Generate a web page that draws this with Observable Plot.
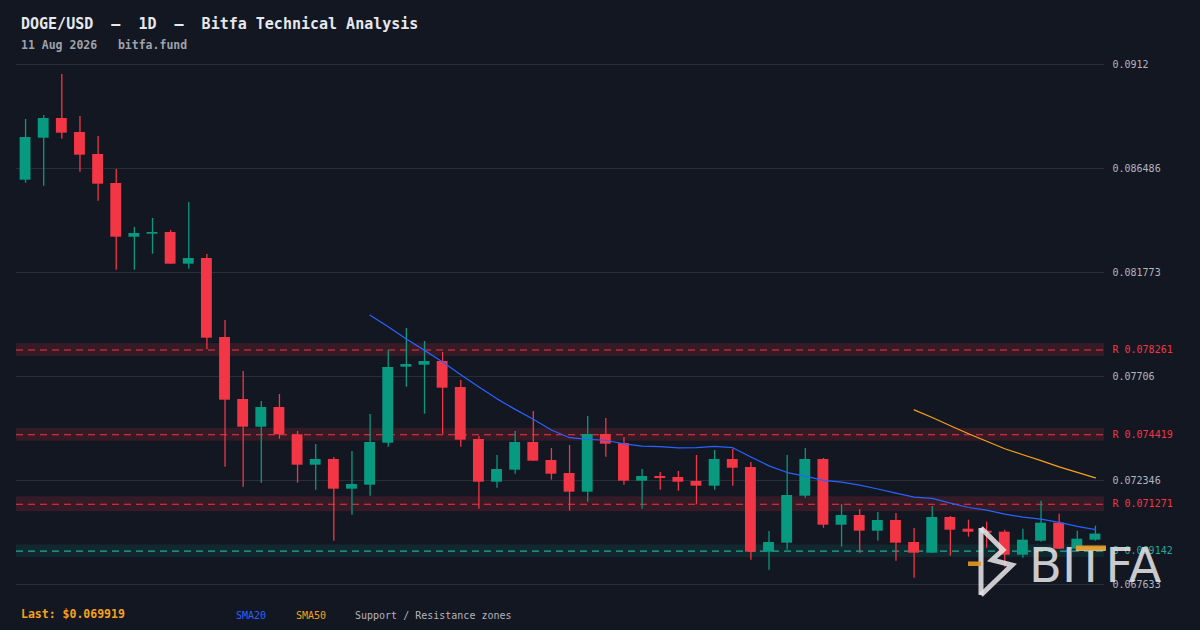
<!DOCTYPE html>
<html>
<head>
<meta charset="utf-8">
<script src="https://cdn.jsdelivr.net/npm/d3@7"></script>
<script src="https://cdn.jsdelivr.net/npm/@observablehq/plot@0.6"></script>
<style>
  html, body { margin: 0; padding: 0; background: #131722; }
  body { width: 1200px; height: 630px; position: relative; overflow: hidden; font-family: "DejaVu Sans Mono", monospace; }
  .abs { position: absolute; white-space: pre; line-height: 1; }
  #title { left: 21px; top: 17px; font-size: 15px; font-weight: bold; color: #e6e8ee; }
  #sub { left: 21px; top: 39.5px; font-size: 11.5px; font-weight: bold; color: #9ea2ab; }
  #chart { position: absolute; left: 0; top: 56px; }
  #last { left: 21px; top: 608.5px; font-size: 11.5px; font-weight: bold; color: #f7a21b; }
  .leg { top: 610.5px; font-size: 10px; }
  #wm { position: absolute; left: 0; top: 0; pointer-events: none; }
</style>
</head>
<body>
<div id="title" class="abs">DOGE/USD  –  1D  –  Bitfa Technical Analysis</div>
<div id="sub" class="abs">11 Aug 2026   bitfa.fund</div>
<div id="chart"></div>
<div id="last" class="abs">Last: $0.069919</div>
<div class="abs leg" style="left:236px;color:#2962ff">SMA20</div>
<div class="abs leg" style="left:296px;color:#f7a21b">SMA50</div>
<div class="abs leg" style="left:355px;color:#b2b5be">Support / Resistance zones</div>
<svg id="wm" width="1200" height="630">
  <g fill="none" stroke="rgba(228,228,230,0.88)" stroke-width="5" stroke-linejoin="miter">
    <path d="M981,528 L981,595"/>
    <path d="M981,528 L1003,550 L992,560 L1012,565 L981,595"/>
  </g>
  <rect x="968" y="561.5" width="13" height="4.5" fill="rgba(230,152,40,0.9)"/>
  <text x="1029" y="582" font-family="DejaVu Sans" font-size="48" fill="rgba(228,228,230,0.88)">BITFA</text>
  <rect x="1076" y="545.5" width="30" height="5" fill="rgba(230,152,40,0.95)"/>
</svg>
<script>
const open = [0.085957,0.087860,0.088753,0.088118,0.087121,0.085807,0.083373,0.083509,0.083586,0.082150,
  0.082408,0.078828,0.076018,0.074762,0.075655,0.074418,0.073040,0.073299,0.071953,0.072134,
  0.074037,0.077482,0.077572,0.077740,0.076562,0.074205,0.072270,0.072814,0.074069,0.073253,
  0.072664,0.071817,0.074432,0.074024,0.072315,0.072529,0.072483,0.072302,0.072089,0.073299,
  0.072936,0.069097,0.069505,0.071635,0.073299,0.070321,0.070761,0.070049,0.070534,0.069537,
  0.069052,0.070670,0.070140,0.070049,0.070004,0.068961,0.069596,0.070412,0.069233,0.069641];
const high = [0.088707,0.088889,0.090747,0.088843,0.087937,0.086441,0.083813,0.084221,0.083677,0.084946,
  0.082589,0.079598,0.077287,0.075927,0.076244,0.074568,0.073978,0.073389,0.073661,0.075338,
  0.078238,0.079236,0.078646,0.078148,0.076879,0.074341,0.073480,0.074568,0.075474,0.073797,
  0.073933,0.075247,0.075157,0.074296,0.072845,0.072709,0.072755,0.073480,0.073706,0.073752,
  0.073163,0.070036,0.073480,0.073797,0.073344,0.071259,0.071033,0.070897,0.070851,0.070172,
  0.071169,0.070715,0.070548,0.070457,0.070095,0.070140,0.071409,0.070820,0.070049,0.070276];
const low = [0.085821,0.085685,0.087815,0.086319,0.085005,0.081878,0.081878,0.082603,0.082150,0.081923,
  0.078270,0.072950,0.072043,0.072224,0.074219,0.072224,0.071907,0.069596,0.070774,0.071635,
  0.073856,0.076575,0.075352,0.074418,0.073856,0.071046,0.071998,0.072632,0.073222,0.072361,
  0.070956,0.071363,0.073403,0.072134,0.071046,0.071907,0.071862,0.071246,0.071907,0.072089,
  0.068735,0.068282,0.069188,0.071545,0.070185,0.069324,0.069052,0.069596,0.068690,0.067919,
  0.069038,0.068916,0.069777,0.069279,0.068418,0.068826,0.069551,0.069220,0.069210,0.069596];
const close = [0.087892,0.088753,0.088087,0.087090,0.085775,0.083373,0.083541,0.083586,0.082150,0.082408,
  0.078796,0.075986,0.074762,0.075655,0.074418,0.073040,0.073299,0.071953,0.072166,0.074069,
  0.077468,0.077604,0.077740,0.076530,0.074173,0.072270,0.072845,0.074069,0.073222,0.072632,
  0.071817,0.074432,0.073992,0.072315,0.072529,0.072438,0.072270,0.072089,0.073299,0.072904,
  0.069097,0.069537,0.071667,0.073299,0.070321,0.070761,0.070049,0.070534,0.069505,0.069052,
  0.070670,0.070095,0.070004,0.069959,0.068961,0.069641,0.070412,0.069233,0.069687,0.069919];

const yTicks = [0.0912, 0.086486, 0.081773, 0.07706, 0.072346, 0.067633];

const zoneLevels = [0.078261, 0.074419, 0.071271, 0.069142];
const zoneKinds  = ["R", "R", "R", "S"];
const zoneHalf   = [0.00029, 0.00029, 0.00034, 0.00029];

const GREEN = "#089981", RED = "#f23645", TEAL = "#26a69a";

const candles = open.map((o, i) => ({i, o, h: high[i], l: low[i], c: close[i], up: close[i] >= o}));
const zones = zoneLevels.map((v, j) => ({
  v, kind: zoneKinds[j], lo: v - zoneHalf[j], hi: v + zoneHalf[j],
  label: zoneKinds[j] + " " + v
}));

function sma(k) {
  return close.map((_, i) => i < k - 1 ? NaN : d3.mean(close.slice(i - k + 1, i + 1)));
}
const s20 = sma(20), s50 = sma(50);
const smaRows = candles.map((d, i) => ({i, s20: s20[i], s50: s50[i]}));

const chart = Plot.plot({
  width: 1200, height: 544,
  marginTop: 8, marginBottom: 16, marginLeft: 16, marginRight: 96,
  style: {background: "transparent", color: "#b2b5be", fontFamily: "DejaVu Sans Mono", fontSize: "10px"},
  x: {type: "band", domain: candles.map(d => d.i), paddingInner: 0.4, paddingOuter: 0.2, round: false, axis: null},
  y: {domain: [0.067633, 0.0912], axis: null},
  marks: [
    Plot.ruleY(yTicks, {stroke: "#2a2e39", strokeWidth: 1}),
    Plot.rect(zones, {y1: "lo", y2: "hi", fill: d => d.kind === "R" ? "rgba(242,54,69,0.15)" : "rgba(8,153,129,0.13)"}),
    Plot.ruleY(zones, {y: "v", stroke: d => d.kind === "R" ? RED : TEAL, strokeWidth: 1.2, strokeDasharray: "7,5"}),
    Plot.ruleX(candles, {x: "i", y1: "l", y2: "h", stroke: d => d.up ? GREEN : RED, strokeWidth: 1.3}),
    Plot.barY(candles, {x: "i", y1: "o", y2: "c", fill: d => d.up ? GREEN : RED}),
    Plot.lineY(smaRows.filter(d => !isNaN(d.s20)), {x: "i", y: "s20", stroke: "#2962ff", strokeWidth: 1.2}),
    Plot.lineY(smaRows.filter(d => !isNaN(d.s50)), {x: "i", y: "s50", stroke: "#f7a21b", strokeWidth: 1.2}),
    Plot.text(yTicks, {y: d => d, text: d => String(d), frameAnchor: "right", textAnchor: "start", dx: 8, fill: "#b2b5be"}),
    Plot.text(zones, {y: "v", text: "label", frameAnchor: "right", textAnchor: "start", dx: 8, fill: d => d.kind === "R" ? RED : TEAL})
  ]
});
document.getElementById("chart").appendChild(chart);
</script>
</body>
</html>
